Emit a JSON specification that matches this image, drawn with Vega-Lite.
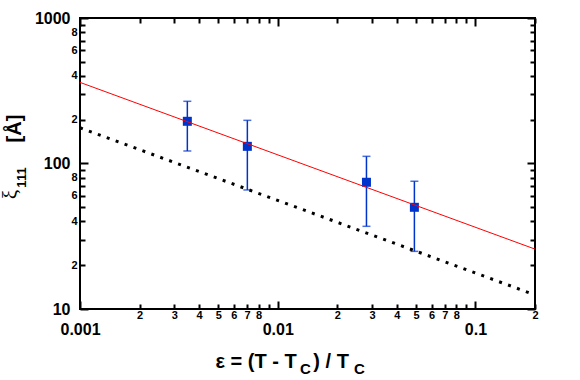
{
  "$schema": "https://vega.github.io/schema/vega-lite/v6.json",
  "autosize": "none",
  "width": 455,
  "height": 291,
  "padding": {"left": 80, "top": 18, "right": 45, "bottom": 71},
  "background": "white",
  "config": {
    "view": {"stroke": "black", "strokeWidth": 2},
    "axis": {"grid": false, "domain": false, "tickColor": "black", "tickWidth": 2, "labelColor": "black", "titleColor": "black", "labelFont": "Liberation Sans", "titleFont": "Liberation Sans", "labelFontWeight": "bold", "titleFontWeight": "bold", "labelOverlap": false, "labelFlush": false, "labelBound": false}
  },
  "datasets": {
    "pts": [
      {"eps": 0.00349, "xi": 195, "lo": 121.9, "hi": 267.6},
      {"eps": 0.00702, "xi": 131.2, "lo": 65.8, "hi": 198},
      {"eps": 0.0281, "xi": 74.3, "lo": 37, "hi": 112},
      {"eps": 0.0491, "xi": 50, "lo": 24.9, "hi": 75.5}
    ],
    "lines": [
      {"series": "fit", "eps": 0.001, "xi": 361},
      {"series": "fit", "eps": 0.2, "xi": 25.8},
      {"series": "theory", "eps": 0.001, "xi": 176},
      {"series": "theory", "eps": 0.2, "xi": 12.5}
    ]
  },
  "resolve": {"axis": {"x": "independent", "y": "independent"}},
  "layer": [
    {
      "data": {"name": "pts"},
      "mark": {"type": "rule", "color": "#0033cc", "strokeWidth": 1.5},
      "encoding": {
        "x": {"field": "eps", "type": "quantitative", "scale": {"type": "log", "domain": [0.001, 0.2], "nice": false},
          "axis": {
            "orient": "bottom",
            "values": [0.001, 0.002, 0.003, 0.004, 0.005, 0.006, 0.007, 0.008, 0.009, 0.01, 0.02, 0.03, 0.04, 0.05, 0.06, 0.07, 0.08, 0.09, 0.1, 0.2],
            "tickSize": {"condition": {"test": "datum.value==0.001||datum.value==0.01||datum.value==0.1", "value": -8}, "value": -5},
            "labelFontSize": {"condition": {"test": "datum.value==0.001||datum.value==0.01||datum.value==0.1", "value": 16}, "value": 11},
            "labelPadding": {"condition": {"test": "datum.value==0.001||datum.value==0.01||datum.value==0.1", "value": 20}, "value": 5},
            "labelExpr": "datum.value==0.001?'0.001':datum.value==0.01?'0.01':datum.value==0.1?'0.1':(datum.value==0.009||datum.value==0.09)?'':format(round(datum.value/pow(10,floor(log(datum.value)/LN10+1e-9))),'d')",
            "title": "ε = (T - T\u00a0\u00a0\u00a0) / T",
            "titleFontSize": 20,
            "titleAlign": "left",
            "titleBaseline": "alphabetic",
            "titleX": 135,
            "titleY": 58
          }},
        "y": {"field": "lo", "type": "quantitative", "scale": {"type": "log", "domain": [10, 1000], "nice": false},
          "axis": {
            "orient": "left",
            "values": [10, 20, 30, 40, 50, 60, 70, 80, 90, 100, 200, 300, 400, 500, 600, 700, 800, 900, 1000],
            "tickSize": {"condition": {"test": "datum.value==10||datum.value==100||datum.value==1000", "value": -8}, "value": -5},
            "labelFontSize": {"condition": {"test": "datum.value==10||datum.value==100||datum.value==1000", "value": 16}, "value": 11},
            "labelPadding": {"condition": {"test": "datum.value==10||datum.value==100||datum.value==1000", "value": 18}, "value": 8},
            "labelExpr": "datum.value==10?'10':datum.value==100?'100':datum.value==1000?'1000':(round(datum.value/pow(10,floor(log(datum.value)/LN10+1e-9)))%2==0?format(round(datum.value/pow(10,floor(log(datum.value)/LN10+1e-9))),'d'):'')",
            "title": "[Å]",
            "titleFontSize": 20,
            "titleAngle": -90,
            "titleAlign": "center",
            "titleBaseline": "alphabetic",
            "titleX": -60,
            "titleY": 110
          }},
        "y2": {"field": "hi"}
      }
    },
    {
      "data": {"name": "pts"},
      "mark": {"type": "tick", "orient": "horizontal", "color": "#0033cc", "size": 8, "thickness": 1.5},
      "encoding": {
        "x": {"field": "eps", "type": "quantitative", "scale": {"type": "log", "domain": [0.001, 0.2], "nice": false},
          "axis": {
            "orient": "top",
            "values": [0.001, 0.002, 0.003, 0.004, 0.005, 0.006, 0.007, 0.008, 0.009, 0.01, 0.02, 0.03, 0.04, 0.05, 0.06, 0.07, 0.08, 0.09, 0.1, 0.2],
            "labels": false,
            "tickSize": {"condition": {"test": "datum.value==0.001||datum.value==0.01||datum.value==0.1", "value": -8}, "value": -5},
            "title": null
          }},
        "y": {"field": "hi", "type": "quantitative", "scale": {"type": "log", "domain": [10, 1000], "nice": false},
          "axis": {
            "orient": "right",
            "values": [10, 20, 30, 40, 50, 60, 70, 80, 90, 100, 200, 300, 400, 500, 600, 700, 800, 900, 1000],
            "labels": false,
            "tickSize": {"condition": {"test": "datum.value==10||datum.value==100||datum.value==1000", "value": -8}, "value": -5},
            "title": null
          }}
      }
    },
    {
      "data": {"name": "pts"},
      "mark": {"type": "tick", "orient": "horizontal", "color": "#0033cc", "size": 8, "thickness": 1.5},
      "encoding": {
        "x": {"field": "eps", "type": "quantitative", "scale": {"type": "log", "domain": [0.001, 0.2], "nice": false},
          "axis": {"orient": "bottom", "labels": false, "ticks": false, "title": "C", "titleFontSize": 15, "titleAlign": "center", "titleBaseline": "alphabetic", "titleX": 225, "titleY": 64}},
        "y": {"field": "lo", "type": "quantitative", "scale": {"type": "log", "domain": [10, 1000], "nice": false},
          "axis": {"orient": "left", "labels": false, "ticks": false, "title": "ξ", "titleFont": "Liberation Serif", "titleFontWeight": "normal", "titleFontSize": 21, "titleAngle": -90, "titleAlign": "center", "titleBaseline": "alphabetic", "titleX": -64, "titleY": 176}}
      }
    },
    {
      "data": {"name": "pts"},
      "mark": {"type": "point", "shape": "square", "filled": true, "opacity": 1, "size": 81, "color": "#0033cc"},
      "encoding": {
        "x": {"field": "eps", "type": "quantitative", "scale": {"type": "log", "domain": [0.001, 0.2], "nice": false},
          "axis": {"orient": "bottom", "labels": false, "ticks": false, "title": "C", "titleFontSize": 15, "titleAlign": "center", "titleBaseline": "alphabetic", "titleX": 279, "titleY": 64}},
        "y": {"field": "xi", "type": "quantitative", "scale": {"type": "log", "domain": [10, 1000], "nice": false},
          "axis": {"orient": "left", "labels": false, "ticks": false, "title": "111", "titleFontSize": 13, "titleAngle": -90, "titleAlign": "center", "titleBaseline": "alphabetic", "titleX": -55, "titleY": 159}}
      }
    },
    {
      "data": {"name": "lines"},
      "transform": [{"filter": "datum.series=='fit'"}],
      "mark": {"type": "line", "color": "#ff0000", "strokeWidth": 1},
      "encoding": {
        "x": {"field": "eps", "type": "quantitative", "scale": {"type": "log", "domain": [0.001, 0.2], "nice": false}, "axis": null},
        "y": {"field": "xi", "type": "quantitative", "scale": {"type": "log", "domain": [10, 1000], "nice": false}, "axis": null}
      }
    },
    {
      "data": {"name": "lines"},
      "transform": [{"filter": "datum.series=='theory'"}],
      "mark": {"type": "line", "color": "black", "strokeWidth": 3, "strokeDash": [3, 6.5], "strokeCap": "butt"},
      "encoding": {
        "x": {"field": "eps", "type": "quantitative", "scale": {"type": "log", "domain": [0.001, 0.2], "nice": false}, "axis": null},
        "y": {"field": "xi", "type": "quantitative", "scale": {"type": "log", "domain": [10, 1000], "nice": false}, "axis": null}
      }
    }
  ]
}
